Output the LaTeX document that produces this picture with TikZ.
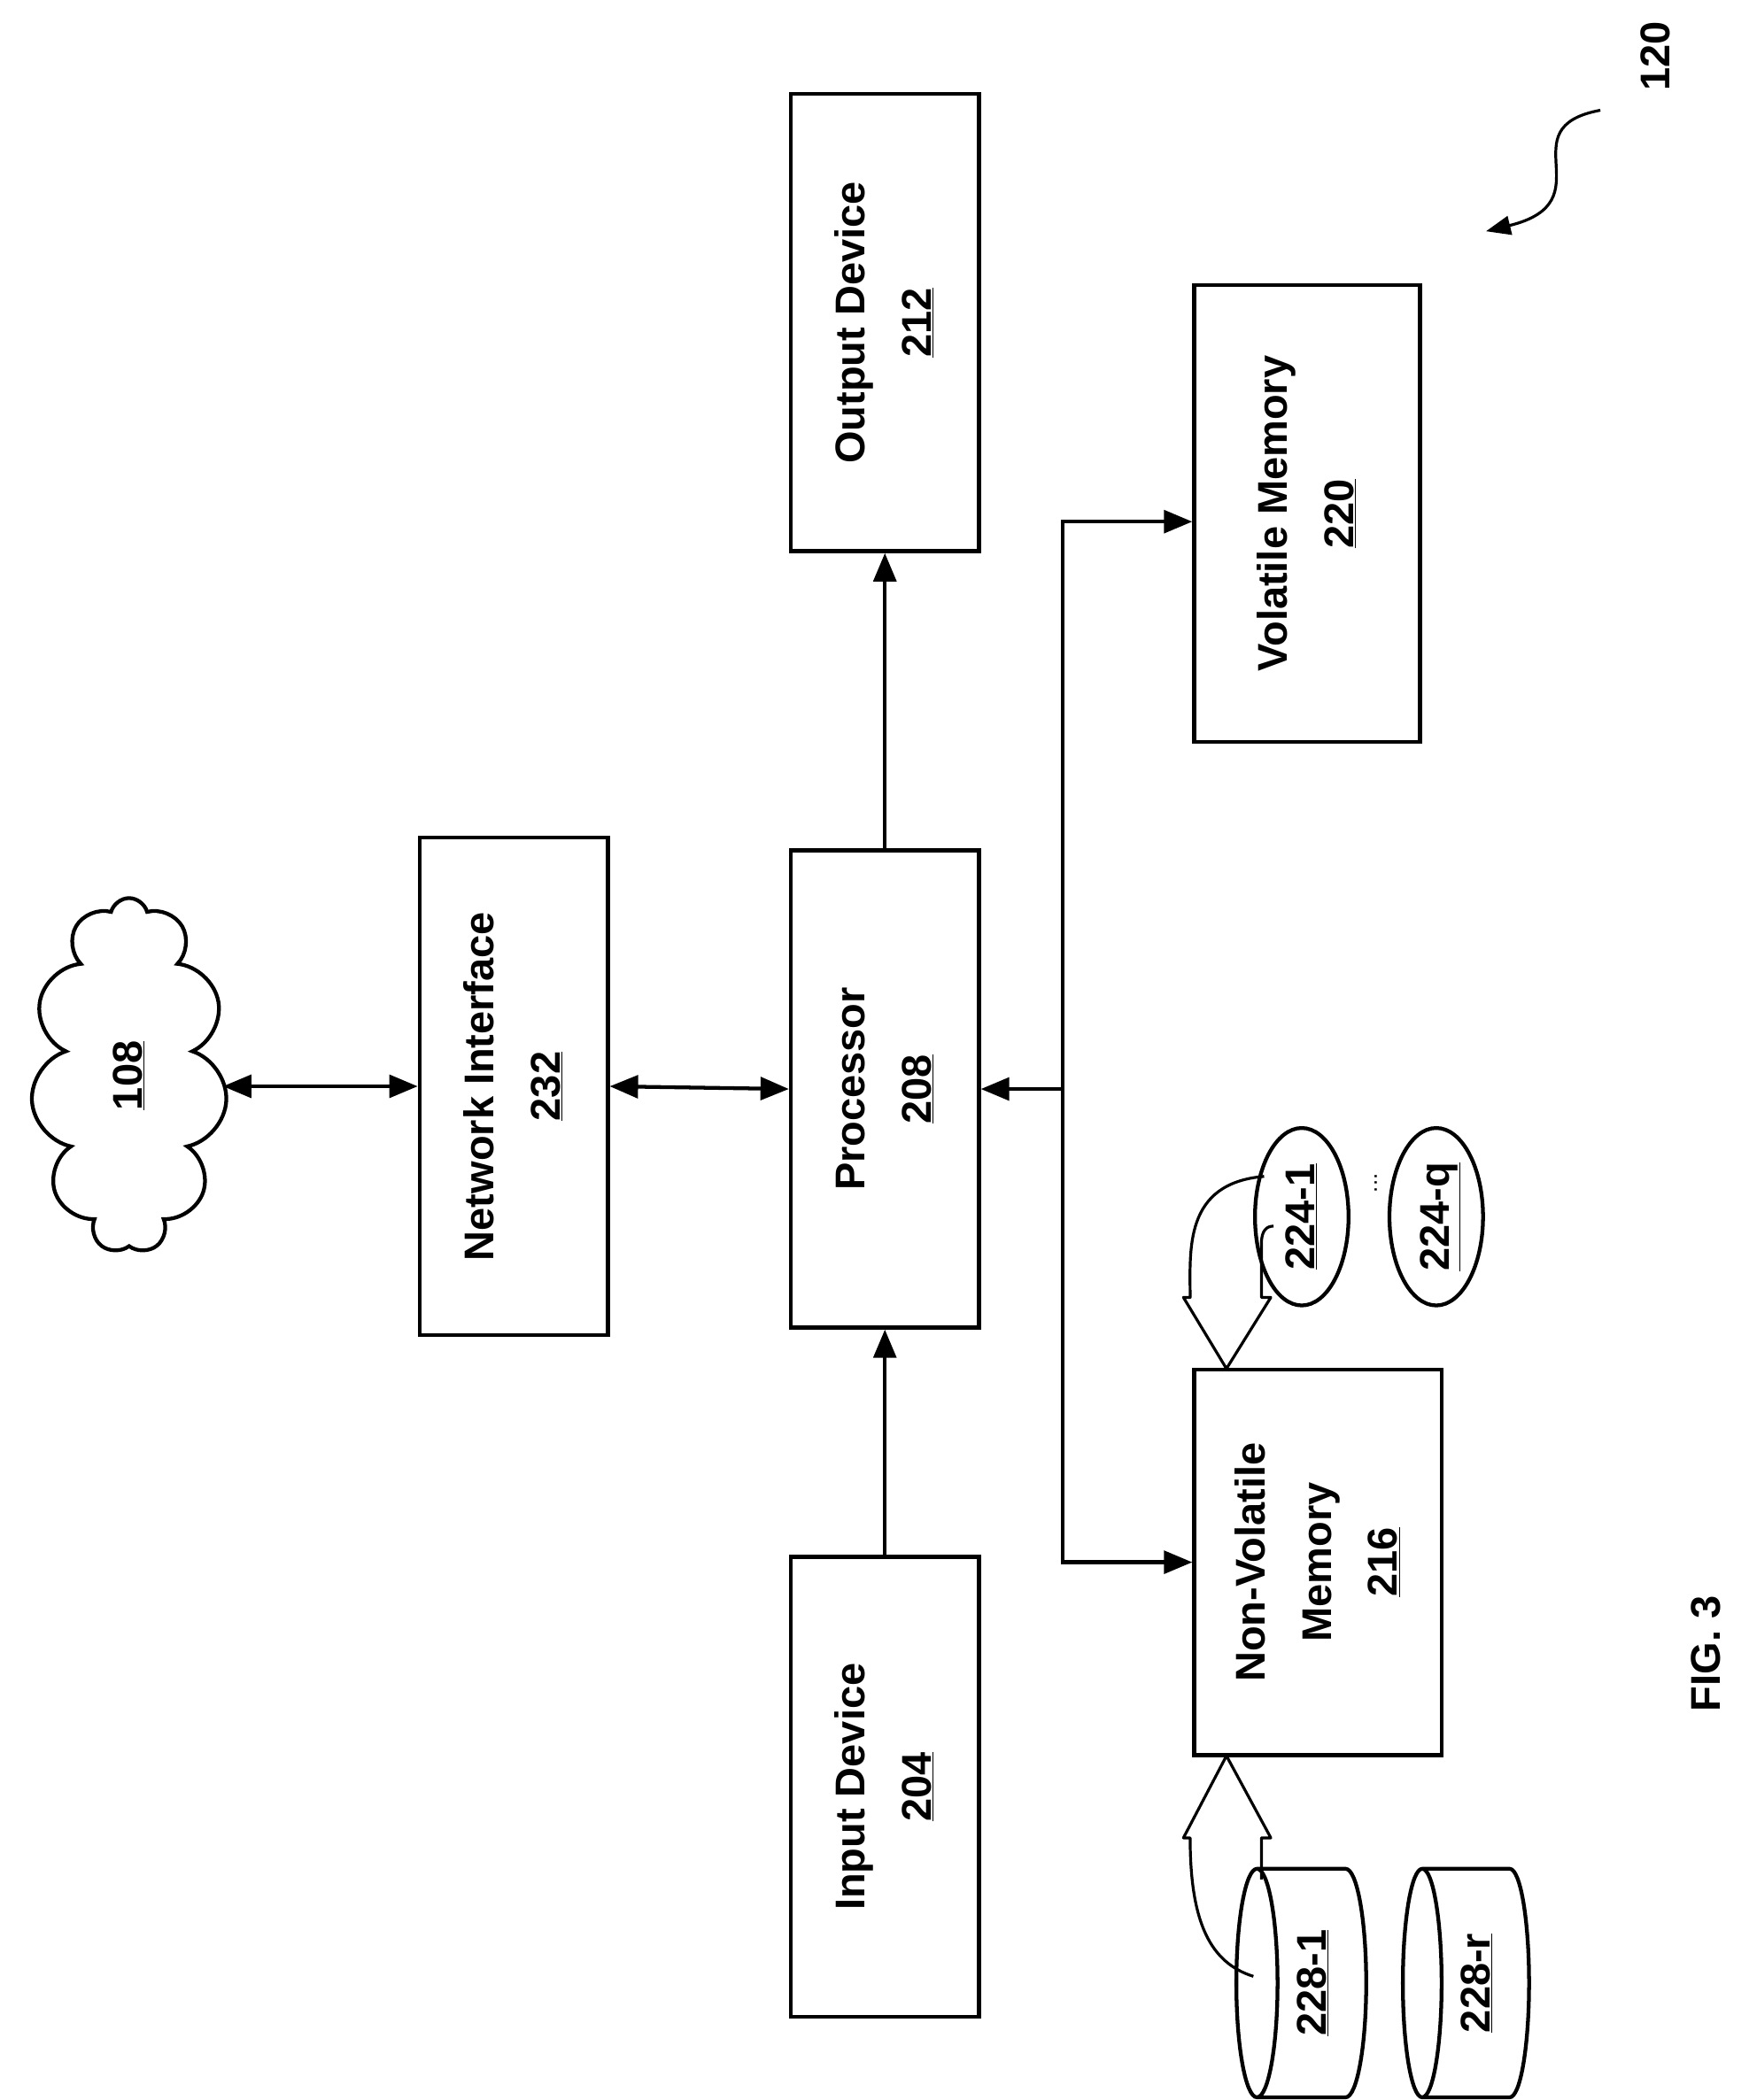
\documentclass[tikz,border=0pt]{standalone}
\usepackage{fontspec}
\setmainfont{Liberation Sans}
\usetikzlibrary{shapes.geometric,shapes.symbols,arrows.meta}
\newcommand{\vtext}[1]{\rotatebox{90}{\begin{tabular}{c}#1\end{tabular}}}
\tikzset{
  box/.style={draw, line width=4pt, minimum width=7cm, inner sep=0pt},
  arr/.style={line width=4pt, -{Triangle[length=30pt,width=24pt]}},
  darr/.style={line width=4pt, {Triangle[length=30pt,width=24pt]}-{Triangle[length=30pt,width=24pt]}},
  every node/.style={font=\fontsize{44}{70}\selectfont\bfseries}
}
\begin{document}
\begin{tikzpicture}[x=0.05cm, y=-0.05cm]
    \useasboundingbox (0,0) rectangle (1300,1562);
    \node[cloud, draw, line width=4pt, cloud puffs=11, minimum width=7.3cm, minimum height=13.2cm, aspect=0.55] (net) at (96,800) {\vtext{\underline{108}}};
    \node[box, minimum height=18.5cm] (nif) at (382,808) {\vtext{Network Interface\\\underline{232}}};
    \node[box, minimum height=17.75cm] (proc) at (658,810) {\vtext{Processor\\\underline{208}}};
    \node[box, minimum height=17cm] (out) at (658,240) {\vtext{Output Device\\\underline{212}}};
    \node[box, minimum height=17.1cm] (inp) at (658,1329) {\vtext{Input Device\\\underline{204}}};
    \node[box, minimum width=8.4cm, minimum height=17cm] (vol) at (972,382) {\vtext{Volatile Memory\\\underline{220}}};
    \node[box, minimum width=9.2cm, minimum height=14.35cm] (nvm) at (980,1162) {\vtext{Non-Volatile\\Memory\\\underline{216}}};
    \node[ellipse, draw, line width=4pt, minimum width=3cm, minimum height=6.6cm, inner sep=0pt] (appa) at (968,905) {\vtext{\underline{224-1}}};
    \node[ellipse, draw, line width=4pt, minimum width=3cm, minimum height=6.6cm, inner sep=0pt] (appq) at (1068,905) {\vtext{\underline{224-q}}};
    \node[font=\fontsize{24}{28}\selectfont] (dotsa) at (1020,880) {\vtext{...}};
    \node[cylinder, draw, line width=4pt, shape border rotate=180, aspect=0.35, minimum width=8.5cm, minimum height=4.6cm, inner sep=0pt] (dba) at (976,1475) {\vtext{\underline{228-1}}};
    \node[cylinder, draw, line width=4pt, shape border rotate=180, aspect=0.35, minimum width=8.5cm, minimum height=4.2cm, inner sep=0pt] (dbr) at (1098,1475) {\vtext{\underline{228-r}}};
    \node[font=\fontsize{24}{28}\selectfont] (dotsb) at (1040,1470) {\vtext{...}};

    \draw[darr] (net.east |- nif) -- (nif.west);
    \draw[darr] (nif.east) -- (proc.west);
    \draw[arr] (inp.north) -- (proc.south);
    \draw[arr] (proc.north) -- (out.south);
    % bus
    \coordinate (bus) at (790,810);
    \draw[arr] (bus) -- (proc.east);
    \draw[arr] (790,810) |- (vol.west |- 0,388);
    \draw[arr] (790,810) |- (nvm.west |- 0,1162);

    % hollow arrows
    \draw[line width=3pt, line join=round] (940,875) .. controls (880,880) and (885,930) .. (885,965)
      -- (880,965) -- (912,1018) -- (945,965) -- (938,965) -- (938,925) .. controls (938,915) and (942,912) .. (947,912);
    \draw[line width=3pt, line join=round] (932,1470) .. controls (900,1460) and (885,1430) .. (885,1367)
      -- (880,1367) -- (912,1306) -- (945,1367) -- (938,1367) -- (938,1398);

    \node[font=\fontsize{44}{50}\selectfont\bfseries] (fig) at (1272,1230) {\vtext{FIG. 3}};
    \node (lbl) at (1232,42) {\vtext{120}};
    \coordinate (tgt) at (1105,172);
    \draw[line width=3pt, -{Triangle[length=26pt,width=20pt]}] (1190,82) .. controls (1120,95) and (1195,150) .. (tgt);
\end{tikzpicture}
\end{document}
